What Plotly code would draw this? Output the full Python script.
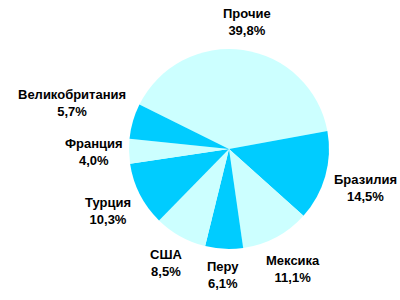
import math
import plotly.graph_objects as go

labels = ["Прочие", "Бразилия", "Мексика", "Перу", "США", "Турция", "Франция", "Великобритания"]
values = [39.8, 14.5, 11.1, 6.1, 8.5, 10.3, 4.0, 5.7]
value_text = ["39,8%", "14,5%", "11,1%", "6,1%", "8,5%", "10,3%", "4,0%", "5,7%"]
colors = ["#CCFFFF", "#00CCFF"] * 4

W, H = 400, 300
M_T, M_B = 49, 51
ROTATION = -63.6
DOM_X = [0.3225, 0.8225]

fig = go.Figure(go.Pie(
    labels=labels,
    values=values,
    textinfo="none",
    sort=False,
    direction="clockwise",
    rotation=ROTATION,
    marker=dict(colors=colors, line=dict(width=0)),
    domain=dict(x=DOM_X, y=[0, 1]),
    showlegend=False,
    hoverinfo="none",
))

# label placement derived from the slice geometry
cx = (DOM_X[0] + DOM_X[1]) / 2 * W
cy = M_T + (H - M_T - M_B) / 2
radius = (H - M_T - M_B) / 2
gap = 8
total = sum(values)
start = ROTATION
annotations = []
for lab, val, txt in zip(labels, values, value_text):
    mid = math.radians(start + val / total * 360 / 2)
    start += val / total * 360
    dx, dy = math.sin(mid), -math.cos(mid)
    w = max(len(lab), len(txt)) * 7.6
    h = 34
    support = abs(dx) * w / 2 + abs(dy) * h / 2
    dist = radius + gap + support
    px, py = cx + dx * dist, cy + dy * dist
    annotations.append(dict(
        x=px / W, y=(H - M_B - py) / (H - M_T - M_B),
        xref="paper", yref="paper",
        text=f"{lab}<br>{txt}", showarrow=False,
        xanchor="center", yanchor="middle", align="center",
        font=dict(family="Liberation Sans", size=13, color="black", weight="bold"),
    ))

fig.update_layout(
    width=W, height=H,
    margin=dict(l=0, r=0, t=M_T, b=M_B),
    paper_bgcolor="white", plot_bgcolor="white",
    annotations=annotations,
)
fig.write_html("out.html")
